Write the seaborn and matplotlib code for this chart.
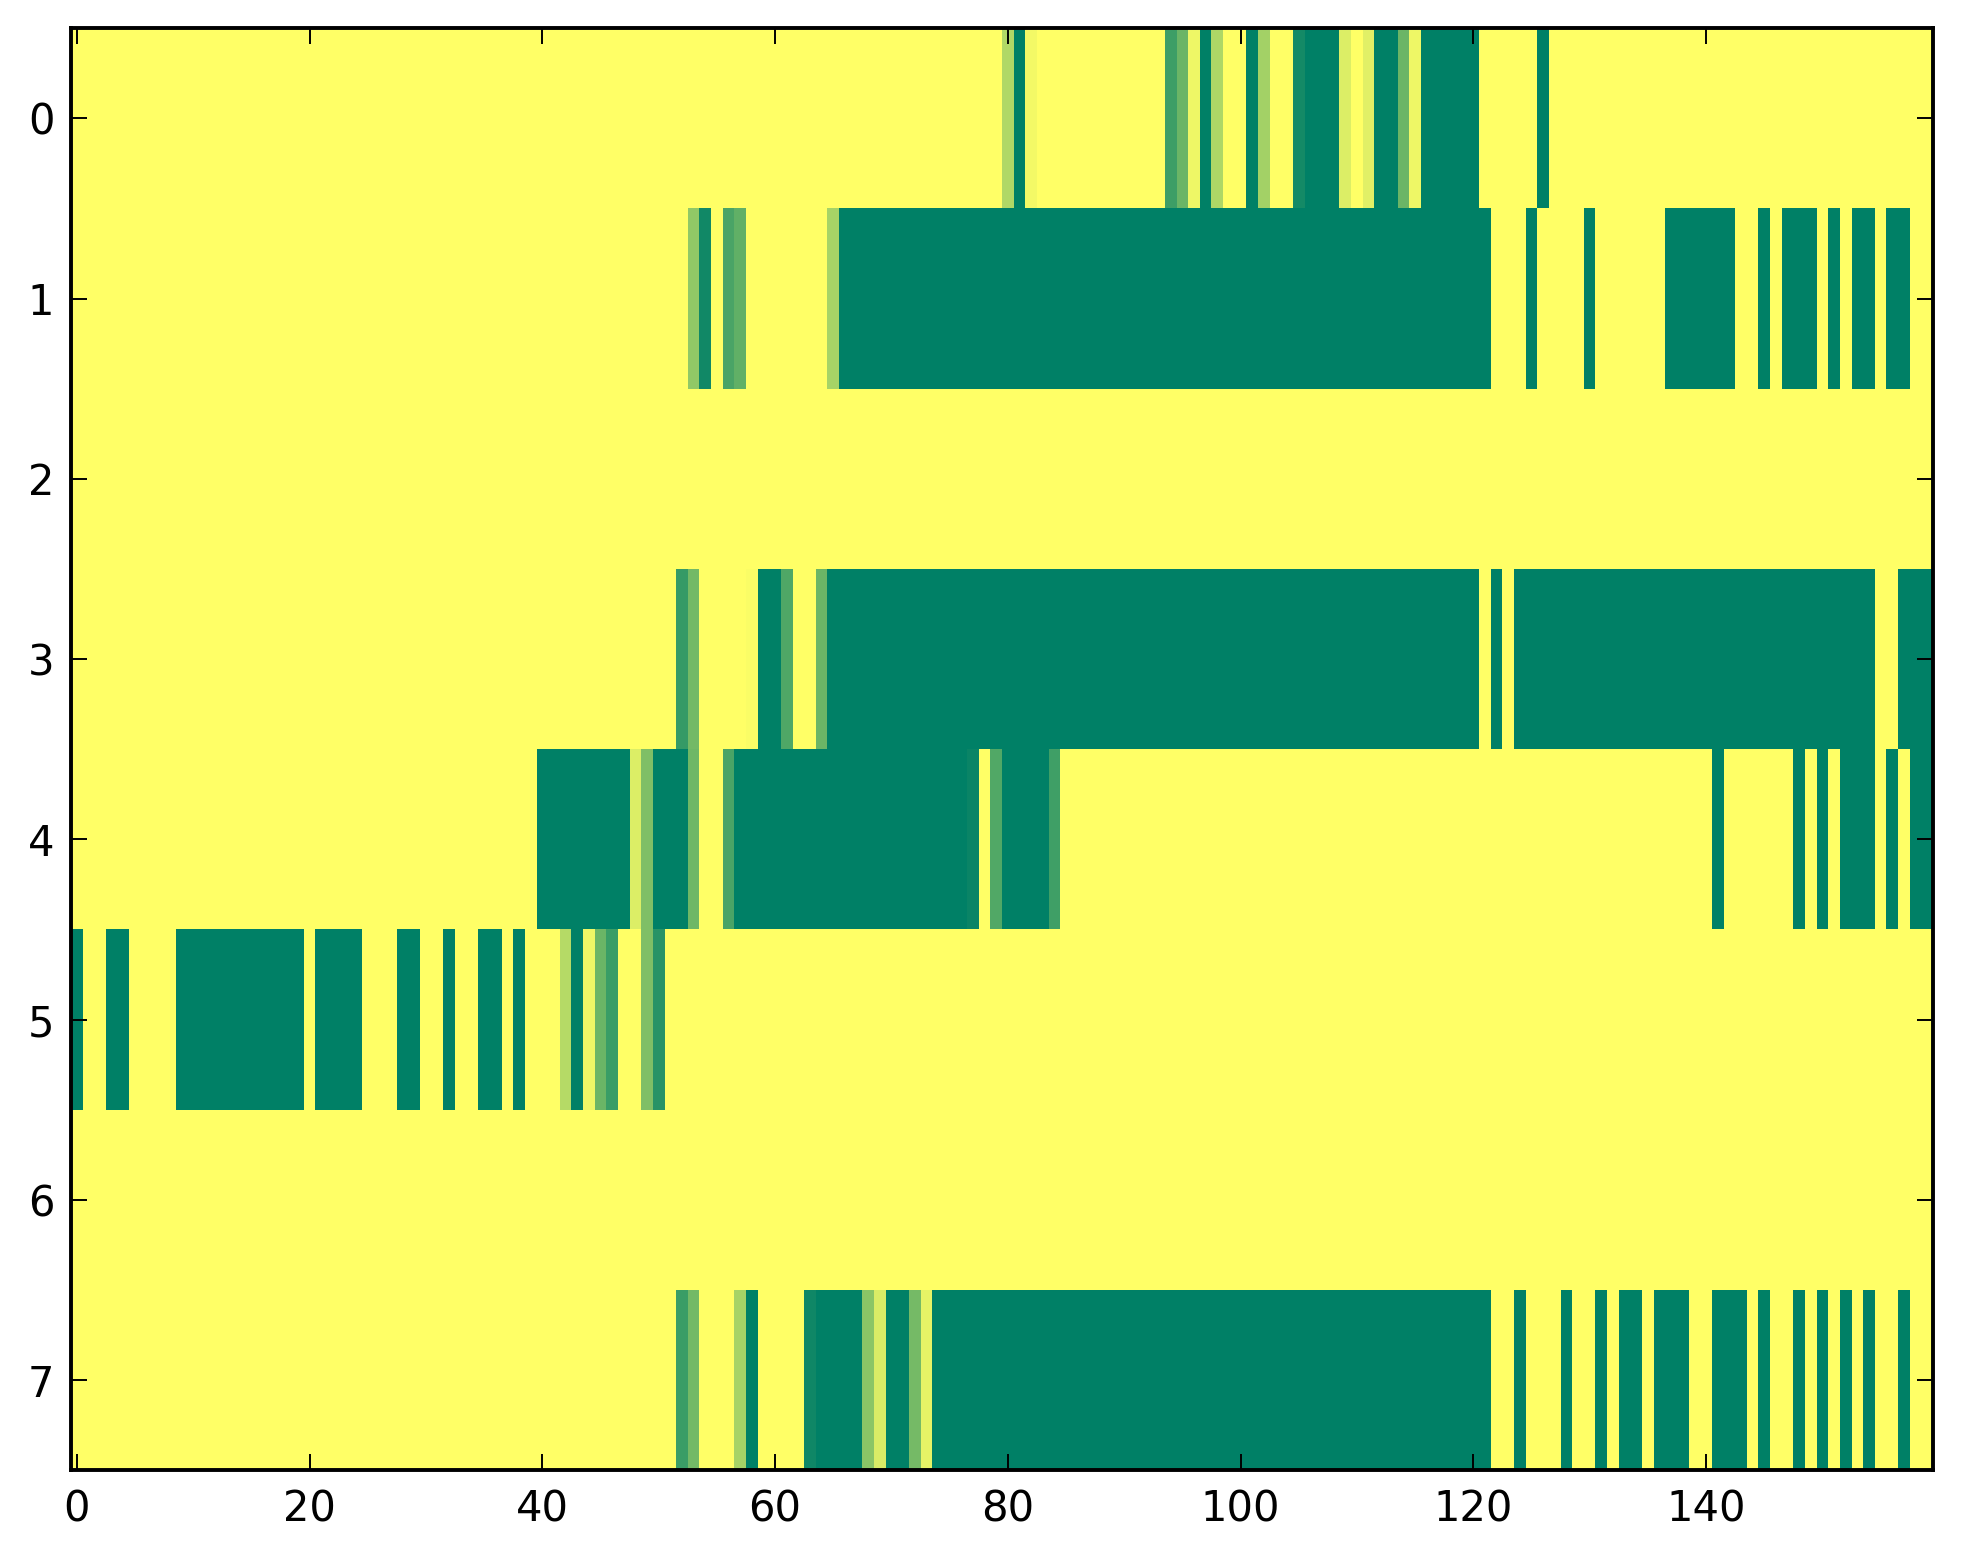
import numpy as np
import pandas as pd
import matplotlib
matplotlib.use("Agg")
import matplotlib.pyplot as plt
import seaborn as sns

Z20 = [0] * 20
ONE20 = [1] * 20

row0 = (Z20 + Z20 + Z20 + Z20
        + [.31, 1, .05, 0, 0, 0, 0, 0, 0, 0, 0, 0, 0, 0, .76, .58, .07, 1, .32, 0]
        + [0, 1, .36, 0, 0, .92, 1, 1, 1, .14, 0, .12, 1, 1, .58, .07, 1, 1, 1, 1]
        + [1, 0, 0, 0, 0, 0, 1, 0, 0, 0, 0, 0, 0, 0, 0, 0, 0, 0, 0, 0]
        + Z20)
row1 = (Z20 + Z20
        + [0] * 13 + [.43, .93, 0, .71, .62, 0, 0]
        + [0, 0, 0, 0, 0, .35] + [1] * 14
        + ONE20 + ONE20
        + [1, 1, 0, 0, 0, 1, 0, 0, 0, 0, 1, 0, 0, 0, 0, 0, 0, 1, 1, 1]
        + [1, 1, 1, 0, 0, 1, 0, 1, 1, 1, 0, 1, 0, 1, 1, 0, 1, 1, 0, 0])
row2 = Z20 * 8
row3 = (Z20 + Z20
        + [0] * 12 + [.79, .55, 0, 0, 0, 0, .02, 1]
        + [1, .69, 0, 0, .58] + [1] * 15
        + ONE20 + ONE20
        + [1, 0, 1, 0] + [1] * 16
        + [1] * 15 + [0, 0, 1, 1, 1])
row4 = (Z20 + Z20
        + [1] * 8 + [.14, .5, 1, 1, 1, .57, 0, 0, .71, 1, 1, 1]
        + [1] * 17 + [.96, 0, .68]
        + [1, 1, 1, 1, .75] + [0] * 15
        + Z20 + Z20
        + [0, 1, 0, 0, 0, 0, 0, 0, 1, 0, 1, 0, 1, 1, 1, 0, 1, 0, 1, 1])
row5 = ([1, 0, 0, 1, 1, 0, 0, 0, 0, 1, 1, 1, 1, 1, 1, 1, 1, 1, 1, 1]
        + [0, 1, 1, 1, 1, 0, 0, 0, 1, 1, 0, 0, 1, 0, 0, 1, 1, 0, 1, 0]
        + [0, 0, .29, 1, .07, .58, .77, 0, 0, .5, .84, 0, 0, 0, 0, 0, 0, 0, 0, 0]
        + Z20 * 5)
row6 = Z20 * 8
row7 = (Z20 + Z20
        + [0] * 12 + [.77, .55, 0, 0, 0, .35, 1, 0]
        + [0, 0, 0, .94, 1, 1, 1, 1, .46, .15, 1, 1, .54, .10, 1, 1, 1, 1, 1, 1]
        + ONE20 + ONE20
        + [1, 1, 0, 0, 1, 0, 0, 0, 1, 0, 0, 1, 0, 1, 1, 0, 1, 1, 1, 0]
        + [0, 1, 1, 1, 0, 1, 0, 0, 1, 0, 1, 0, 1, 0, 1, 0, 0, 1, 0, 0])

rows = [row0, row1, row2, row3, row4, row5, row6, row7]
data = pd.DataFrame(np.array(rows, dtype=float))

xtick_values = [0, 20, 40, 60, 80, 100, 120, 140]
ytick_values = [0, 1, 2, 3, 4, 5, 6, 7]

plt.rcParams['font.family'] = ['DejaVu Sans']
fig = plt.figure(figsize=(9.815, 7.82), dpi=200)
ax = fig.add_axes([0.0362, 0.0600, 0.9485, 0.9220])
sns.heatmap(data, cmap="summer_r", vmin=0, vmax=1, cbar=False, ax=ax,
            xticklabels=False, yticklabels=False)

ax.set_xticks([v + 0.5 for v in xtick_values])
ax.set_xticklabels([str(v) for v in xtick_values], rotation=0)
ax.set_yticks([v + 0.5 for v in ytick_values])
ax.set_yticklabels([str(v) for v in ytick_values], rotation=0)
ax.set_xlabel("")
ax.set_ylabel("")

for s in ax.spines.values():
    s.set_visible(True)
    s.set_linewidth(1.4)
    s.set_color("black")
ax.tick_params(axis="both", which="major", direction="in", length=5.6, width=0.7,
               top=True, right=True, bottom=True, left=True,
               labelsize=15, pad=6.5, colors="black")
ax.tick_params(axis="y", pad=6)

fig.savefig("out.png", dpi=200)
